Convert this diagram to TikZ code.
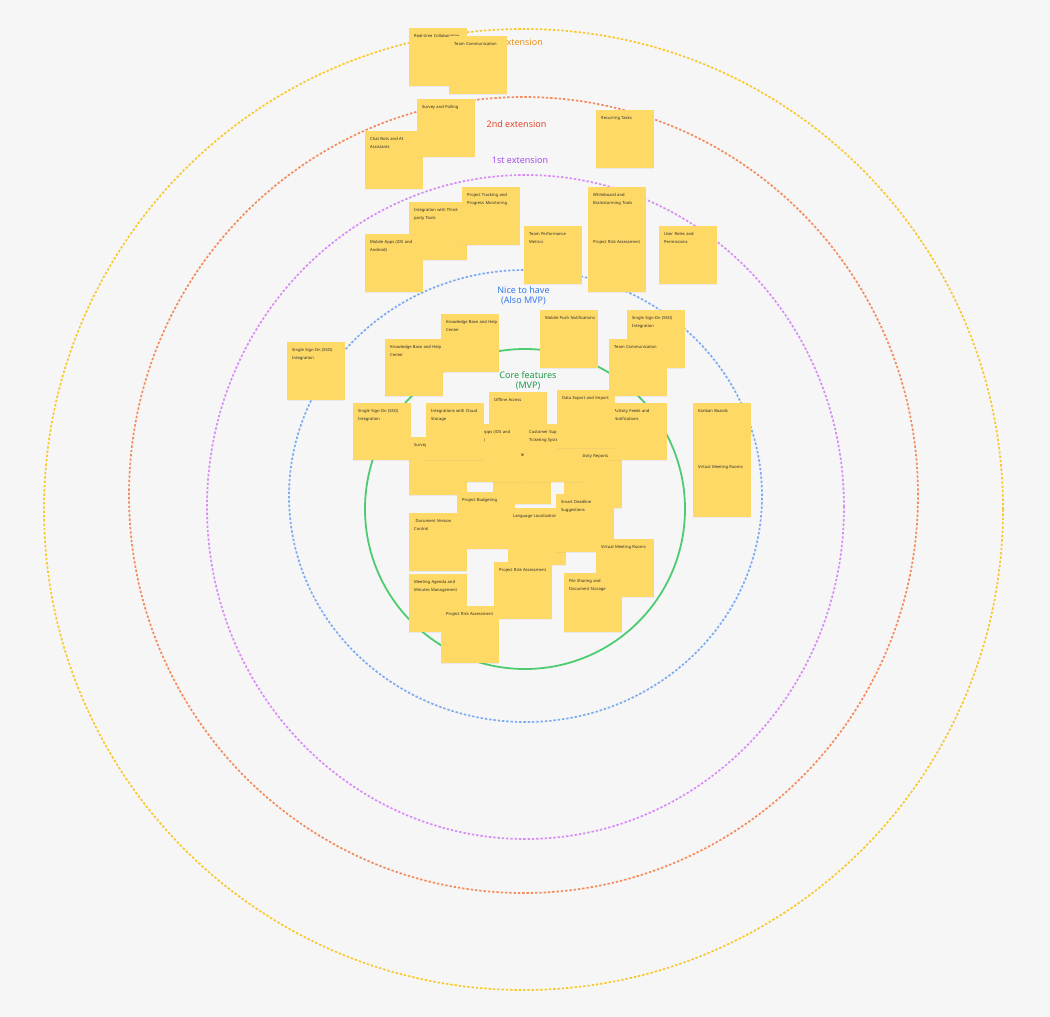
\documentclass[tikz,border=0pt]{standalone}
\usepackage{fontspec}
\setmainfont{Noto Sans}
\usetikzlibrary{shadows}
\definecolor{bg}{HTML}{F6F6F6}
\definecolor{stk}{HTML}{FFD966}
\definecolor{stktext}{HTML}{2A2A2A}
\definecolor{ringY}{HTML}{F8C82C}
\definecolor{ringO}{HTML}{F58B5C}
\definecolor{ringP}{HTML}{D98CF6}
\definecolor{ringB}{HTML}{7BABF3}
\definecolor{ringG}{HTML}{4FCB70}
\definecolor{labY}{HTML}{E8901C}
\definecolor{labO}{HTML}{E5452C}
\definecolor{labP}{HTML}{A24DF2}
\definecolor{labB}{HTML}{3578EC}
\definecolor{labG}{HTML}{1F9A4A}
\tikzset{
  ring/.style={line width=1.7pt, dash pattern=on 2.4pt off 1.9pt},
  corering/.style={line width=1.8pt},
  stickybox/.style={rectangle, fill=stk, draw=none, minimum width=58pt, inner sep=0pt, anchor=north west,
     drop shadow={opacity=0.10, shadow xshift=0pt, shadow yshift=-0.9pt}},
  stickytext/.style={anchor=north west, inner sep=0pt, text width=52pt, align=left, text=stktext,
     font=\fontsize{4.1}{7.9}\selectfont},
  ringlabel/.style={font=\fontsize{9}{10.2}\selectfont, align=center, inner sep=0pt}
}
\newcommand\stickynote[5]{%
  \node[stickybox, minimum height=#4pt] (#1) at (#2,#3) {};
  \node[stickytext] (#1-t) at ([xshift=5pt,yshift=-6.5pt]#1.north west) {#5};}
\begin{document}
\begin{tikzpicture}[x=1pt,y=-1pt]
\fill[bg] (0,0) rectangle (1050,1017);
\useasboundingbox (0,0) rectangle (1050,1017);

% rings
\draw[ring, draw=ringY] (523.5,509.5) ellipse [x radius=479.5pt, y radius=480.5pt];
\draw[ring, draw=ringO] (523.5,495) ellipse [x radius=394.5pt, y radius=398pt];
\draw[ring, draw=ringP] (525.5,507) ellipse [x radius=318.5pt, y radius=332pt];
\draw[ring, draw=ringB] (525.5,496) ellipse [x radius=236.5pt, y radius=226pt];
\draw[corering, draw=ringG] (525,509) ellipse [x radius=160pt, y radius=160pt];

% ring labels
\node[ringlabel, text=labY, anchor=east] (l3) at (543,42) {3rd extension};
\node[ringlabel, text=labO] (l2) at (516.5,124) {2nd extension};
\node[ringlabel, text=labP] (l1) at (520,160) {1st extension};
\node[ringlabel, text=labB] (ln) at (523.5,296) {Nice to have\\(Also MVP)};
\node[ringlabel, text=labG] (lc) at (528,381) {Core features\\(MVP)};

% 3rd / 2nd extension stickies
\stickynote{rtc}{409}{28}{58}{Real-time Collaboration}
\stickynote{tcA}{449}{36}{58}{Team Communication}
\stickynote{chat}{365}{131}{58}{Chat Bots and AI\\Assistants}
\stickynote{survA}{417}{99}{58}{Survey and Polling}
\stickynote{recur}{596}{110}{58}{Recurring Tasks}

% 1st extension stickies
\stickynote{wb}{588}{187}{58}{Whiteboard and\\Brainstorming Tools}
\stickynote{praA}{588}{234}{58}{Project Risk Assessment}
\stickynote{roles}{659}{226}{58}{User Roles and\\Permissions}
\stickynote{integ}{409}{202}{58}{Integration with Third-\\party Tools}
\stickynote{track}{462}{187}{58}{Project Tracking and\\Progress Monitoring}
\stickynote{mobA}{365}{234}{58}{Mobile Apps (iOS and\\Android)}
\stickynote{perf}{524}{226}{58}{Team Performance\\Metrics}

% nice to have stickies
\stickynote{ssoA}{287}{342}{58}{Single Sign-On (SSO)\\Integration}
\stickynote{kbB}{441}{314}{58}{Knowledge Base and Help\\Center}
\stickynote{kbA}{385}{339}{57}{Knowledge Base and Help\\Center}
\stickynote{push}{540}{310}{58}{Mobile Push Notifications}
\stickynote{ssoB}{627}{310}{58}{Single Sign-On (SSO)\\Integration}
\stickynote{tcB}{609}{339}{57}{Team Communication}
\stickynote{kanban}{693}{403}{58}{Kanban Boards}
\stickynote{vmrA}{693}{459}{58}{Virtual Meeting Rooms}

% core stickies
\stickynote{offline}{489}{392}{57}{Offline Access}
\stickynote{dash}{493}{447}{57}{Customizable Dashboards}
\stickynote{survB}{409}{437}{58}{Survey and Polling}
\stickynote{ssoC}{353}{403}{57}{Single Sign-On (SSO)\\Integration}
\stickynote{mobB}{463}{424}{58}{Mobile Apps (iOS and\\Android)}
\stickynote{cloud}{426}{403}{57}{Integrations with Cloud\\Storage}
\stickynote{prod}{564}{448}{60}{Productivity Reports}
\stickynote{cust}{524}{424}{58}{Customer Support\\Ticketing System}
\stickynote{feed}{609}{403}{57}{Activity Feeds and\\Notifications}
\stickynote{export}{557}{390}{58}{Data Export and Import}
\stickynote{budget}{457}{492}{57}{Project Budgeting}
\stickynote{lang}{508}{508}{57}{Language Localization}
\stickynote{smart}{556}{494}{58}{Smart Deadline\\Suggestions}
\stickynote{docver}{409}{513}{58}{\ Document Version\\Control}
\stickynote{meet}{409}{574}{58}{Meeting Agenda and\\Minutes Management}
\stickynote{praB}{494}{562}{57}{Project Risk Assessment}
\stickynote{praC}{441}{606}{57}{Project Risk Assessment}
\stickynote{vmrB}{596}{539}{58}{Virtual Meeting Rooms}
\stickynote{files}{564}{573}{59}{File Sharing and\\Document Storage}
\end{tikzpicture}
\end{document}
